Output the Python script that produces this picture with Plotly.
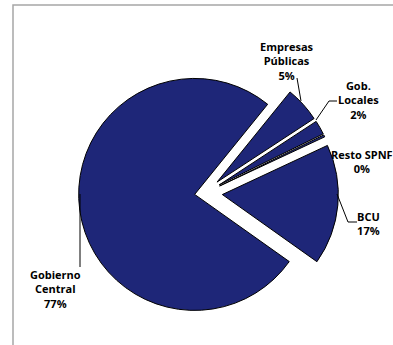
import plotly.graph_objects as go

# slices in clockwise order, starting just right of 12 o'clock
labels = ["Empresas Públicas", "Gob. Locales", "Resto SPNF", "BCU", "Gobierno Central"]
label_lines = ["Empresas<br>Públicas", "Gob.<br>Locales", "Resto SPNF", "BCU", "Gobierno<br>Central"]
shares = [5, 2, 0.3, 17, 77]
pulls = [0.14, 0.14, 0.14, 0.15, 0.09]

W, H = 393, 345
NAVY = "#1E2678"


def px(x, y):
    return x / W, 1 - y / H


# pie geometry (pixels): centre and radius
cx, cy, R = 205, 193, 116
half = R * (1 + max(pulls))

fig = go.Figure(
    go.Pie(
        labels=labels,
        values=shares,
        sort=False,
        direction="clockwise",
        rotation=39,
        pull=pulls,
        marker=dict(colors=[NAVY] * len(labels), line=dict(color="black", width=1)),
        textinfo="none",
        hoverinfo="skip",
        showlegend=False,
        domain=dict(
            x=[(cx - half) / W, (cx + half) / W],
            y=[(H - cy - half) / H, (H - cy + half) / H],
        ),
    )
)

# label placement (pixel centres)
label_pos = [(287, 61), (358, 100), (362, 162), (368, 224), (55, 289)]
for name, pct, (lx, ly) in zip(label_lines, shares, label_pos):
    x, y = px(lx, ly)
    fig.add_annotation(
        x=x, y=y, xref="paper", yref="paper",
        text=f"<b>{name}<br>{round(pct)}%</b>",
        showarrow=False, xanchor="center", yanchor="middle",
        font=dict(size=11, color="black", family="Open Sans, sans-serif"),
    )

# leader lines
leaders = [
    [(297, 78), (301, 101)],
    [(337, 101), (329, 101), (316, 120)],
    [(357, 222), (348, 222), (337, 194)],
    [(80, 194), (80, 267)],
]
for pts in leaders:
    path = "M " + " L ".join(f"{px(a, b)[0]},{px(a, b)[1]}" for a, b in pts)
    fig.add_shape(type="path", path=path, xref="paper", yref="paper",
                  line=dict(color="black", width=1))

# chart frame
x0, y0 = px(13, 5)
x1, y1 = px(420, 380)
fig.add_shape(type="rect", xref="paper", yref="paper", x0=x0, y0=y1, x1=x1, y1=y0,
              line=dict(color="#A6A6A6", width=1.5))

fig.update_layout(
    width=W, height=H,
    margin=dict(l=0, r=0, t=0, b=0),
    paper_bgcolor="white",
    plot_bgcolor="white",
    font=dict(family="Open Sans, sans-serif", color="black"),
)

fig.write_html(
    "out.html",
    config={"displayModeBar": False},
    post_script="document.body.style.margin='0';document.body.style.overflow='hidden';",
)
